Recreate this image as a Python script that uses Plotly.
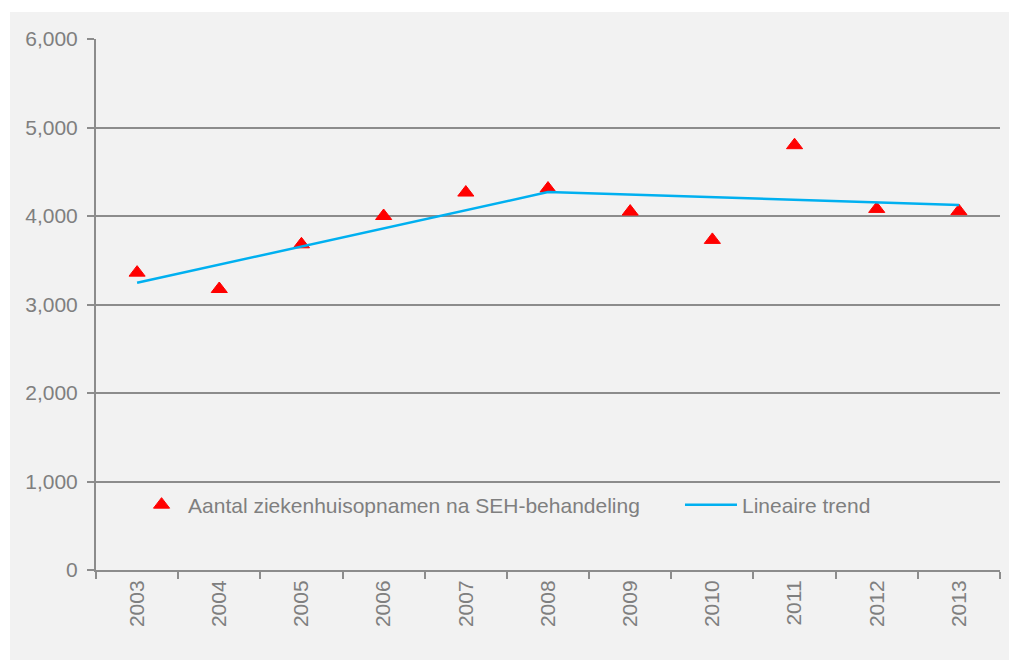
import plotly.graph_objects as go

years = ["2003", "2004", "2005", "2006", "2007", "2008", "2009", "2010", "2011", "2012", "2013"]
admissions = [3360, 3175, 3680, 4000, 4265, 4310, 4050, 3730, 4800, 4080, 4055]
trend_years = ["2003", "2008", "2013"]
trend_values = [3245, 4270, 4125]
y_ticks = [0, 1000, 2000, 3000, 4000, 5000, 6000]

GRAY = "#8c8c8c"
TXT = "#7f7f7f"
FONT = "Liberation Sans, Arial, sans-serif"

# page body has an 8px margin, so the figure is 8px smaller and everything shifted
OFF = 8
W, H = 1017 - OFF, 660 - OFF
L, R, T, B = 96 - OFF, 17, 39 - OFF, 90
pw, ph = W - L - R, H - T - B

fig = go.Figure()
fig.add_trace(go.Scatter(
    x=years, y=admissions, mode="markers",
    name="Aantal ziekenhuisopnamen na SEH-behandeling",
    marker=dict(symbol="triangle-up", size=14, color="#ff0000",
                line=dict(color="#ff0000", width=1)),
    legend="legend",
))
fig.add_trace(go.Scatter(
    x=trend_years, y=trend_values, mode="lines",
    name="Lineaire trend",
    line=dict(color="#00b0f0", width=2.5),
    legend="legend2",
))

fig.add_shape(
    type="rect", xref="paper", yref="paper", layer="below",
    x0=(10 - OFF - L) / pw, x1=(W + 20 - L) / pw,
    y0=-(H + 20 - (T + ph)) / ph, y1=(T + ph - (12 - OFF)) / ph,
    fillcolor="#f2f2f2", line=dict(width=0),
)

leg_common = dict(
    orientation="h", y=0.1224, xanchor="left", yanchor="middle",
    bgcolor="rgba(0,0,0,0)", font=dict(size=21, color=TXT, family=FONT),
)

fig.update_layout(
    width=W, height=H,
    margin=dict(l=L, r=R, t=T, b=B),
    paper_bgcolor="white",
    plot_bgcolor="rgba(0,0,0,0)",
    font=dict(family=FONT, color=TXT, size=21),
    showlegend=True,
    legend=dict(x=0.0432, itemwidth=43, **leg_common),
    legend2=dict(x=0.646, itemwidth=52, **leg_common),
    xaxis=dict(
        type="category", categoryorder="array", categoryarray=years,
        range=[-0.5, len(years) - 0.5],
        showgrid=False, showline=True, linecolor=GRAY, linewidth=2,
        ticks="outside", tickson="boundaries", ticklen=7, tickcolor=GRAY, tickwidth=2,
        tickangle=-90, tickfont=dict(size=21, color=TXT),
        zeroline=False,
    ),
    yaxis=dict(
        range=[0, 6000], tickvals=y_ticks, tickformat=",d",
        showgrid=True, gridcolor=GRAY, gridwidth=2,
        showline=True, linecolor=GRAY, linewidth=2,
        ticks="outside", ticklen=7, tickcolor=GRAY, tickwidth=2,
        ticklabelstandoff=5,
        tickfont=dict(size=21, color=TXT), zeroline=False,
    ),
)

fig.write_html("out.html")
